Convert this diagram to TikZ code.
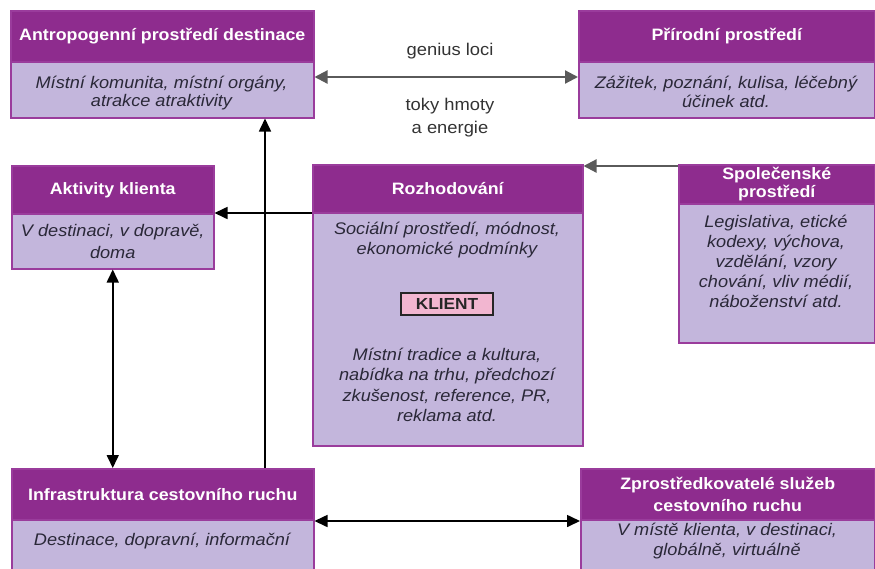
\documentclass[tikz,border=0pt]{standalone}
\usepackage{fontspec}
\setmainfont{Liberation Sans}[FakeStretch=1.08]
\usetikzlibrary{arrows.meta}
\definecolor{hdrc}{HTML}{8E2C8E}
\definecolor{bordc}{HTML}{9A3C9C}
\definecolor{bodyc}{HTML}{C3B6DC}
\definecolor{klc}{HTML}{F2B6D0}
\definecolor{txtc}{HTML}{2A2838}
\definecolor{grayc}{HTML}{5A5A5A}
\newcommand{\hdrfont}{\bfseries\fontsize{16.5}{19}\selectfont}
\newcommand{\bdyfont}{\itshape\fontsize{16.8}{20.5}\selectfont}
\tikzset{
  hdr/.style={draw=bordc, fill=hdrc, line width=1.5pt, text=white, font=\hdrfont,
    align=center, anchor=north west, inner sep=0pt},
  bdy/.style={draw=bordc, fill=bodyc, line width=1.5pt, text=txtc, font=\bdyfont,
    align=center, anchor=north west, inner sep=0pt},
  btxt/.style={text=txtc, font=\bdyfont, align=center, inner sep=0pt},
  lbl/.style={text=black!80, font=\fontsize{17}{23}\selectfont, align=center, inner sep=0pt},
  arr/.style={line width=1.6pt, black, -{Triangle[length=13pt,width=12pt]}},
  darr/.style={line width=1.6pt, black, {Triangle[length=13pt,width=12pt]}-{Triangle[length=13pt,width=12pt]}},
  garr/.style={line width=2.2pt, grayc, -{Triangle[length=13pt,width=13pt]}},
  gdarr/.style={line width=2.2pt, grayc, {Triangle[length=13pt,width=13pt]}-{Triangle[length=13pt,width=13pt]}},
}
\begin{document}
\begin{tikzpicture}[x=1pt,y=-1pt]
\useasboundingbox (0,0) rectangle (875,568);
\clip (0,0) rectangle (875,568);
% Antropogenni
\node[hdr, minimum width=303, minimum height=51] (Ahdr) at (10,10) {Antropogenní prostředí destinace};
\node[bdy, minimum width=303, minimum height=56] (Abody) at (10,61) {};
\node[btxt, font=\itshape\fontsize{16.8}{18.5}\selectfont] (Atext) at (161.5,93) {Místní komunita, místní orgány,\\atrakce atraktivity};
% Prirodni
\node[hdr, minimum width=296, minimum height=51] (Phdr) at (578,10) {Přírodní prostředí};
\node[bdy, minimum width=296, minimum height=56] (Pbody) at (578,61) {};
\node[btxt, font=\itshape\fontsize{16.8}{18.5}\selectfont] (Ptext) at (726,92) {Zážitek, poznání, kulisa, léčebný\\účinek atd.};
% Rozhodovani
\node[hdr, minimum width=270, minimum height=48] (Rhdr) at (312,164) {Rozhodování};
\node[bdy, minimum width=270, minimum height=233] (Rbody) at (312,212) {};
\node[btxt] (Rtop) at (447,240) {Sociální prostředí, módnost,\\ekonomické podmínky};
\node[draw=black!85, line width=1.2pt, fill=klc, font=\bfseries\fontsize{16}{18}\selectfont, text=black!85,
  minimum width=92, minimum height=22, inner sep=0pt] (klient) at (447,304) {KLIENT};
\node[btxt] (Rbot) at (447,385) {Místní tradice a kultura,\\nabídka na trhu, předchozí\\zkušenost, reference, PR,\\reklama atd.};
% Spolecenske
\node[hdr, minimum width=196, minimum height=39, font=\bfseries\fontsize{16.5}{18}\selectfont] (Shdr) at (678,164) {Společenské\\prostředí};
\node[bdy, minimum width=196, minimum height=139] (Sbody) at (678,203) {};
\node[btxt, font=\itshape\fontsize{16.8}{20}\selectfont] (Stext) at (776,261) {Legislativa, etické\\kodexy, výchova,\\vzdělání, vzory\\chování, vliv médií,\\náboženství atd.};
% Aktivity klienta
\node[hdr, minimum width=202, minimum height=48] (Khdr) at (11,165) {Aktivity klienta};
\node[bdy, minimum width=202, minimum height=55, font=\itshape\fontsize{16.8}{22}\selectfont] (Kbody) at (11,213) {V destinaci, v dopravě,\\doma};
% Infrastruktura
\node[hdr, minimum width=302, minimum height=51] (Ihdr) at (11,468) {Infrastruktura cestovního ruchu};
\node[bdy, minimum width=302, minimum height=80] (Ibody) at (11,519) {};
\node[btxt] (Itext) at (162,541) {Destinace, dopravní, informační};
% Zprostredkovatele
\node[hdr, minimum width=294, minimum height=51, font=\bfseries\fontsize{16.5}{22}\selectfont] (Zhdr) at (580,468) {Zprostředkovatelé služeb\\cestovního ruchu};
\node[bdy, minimum width=294, minimum height=80] (Zbody) at (580,519) {};
\node[btxt] (Ztext) at (727,541) {V místě klienta, v destinaci,\\globálně, virtuálně};
% labels
\node[lbl] (genius) at (450,51) {genius loci};
\node[lbl] (toky) at (450,118) {toky hmoty\\a energie};
% connectors
\draw[gdarr] (Abody.east |- 0,77) -- (Pbody.west |- 0,77);
\draw[garr] (Shdr.west |- 0,166) -- (Rhdr.east |- 0,166);
\draw[arr] (Rbody.west |- 0,213) -- (Kbody.east |- 0,213);
\draw[arr] (Ihdr.north -| 265,0) -- (Abody.south -| 265,0);
\draw[darr] (Kbody.south) -- (Ihdr.north -| Kbody.south);
\draw[darr] (Ibody.east |- 0,521) -- (Zbody.west |- 0,521);
\end{tikzpicture}
\end{document}
